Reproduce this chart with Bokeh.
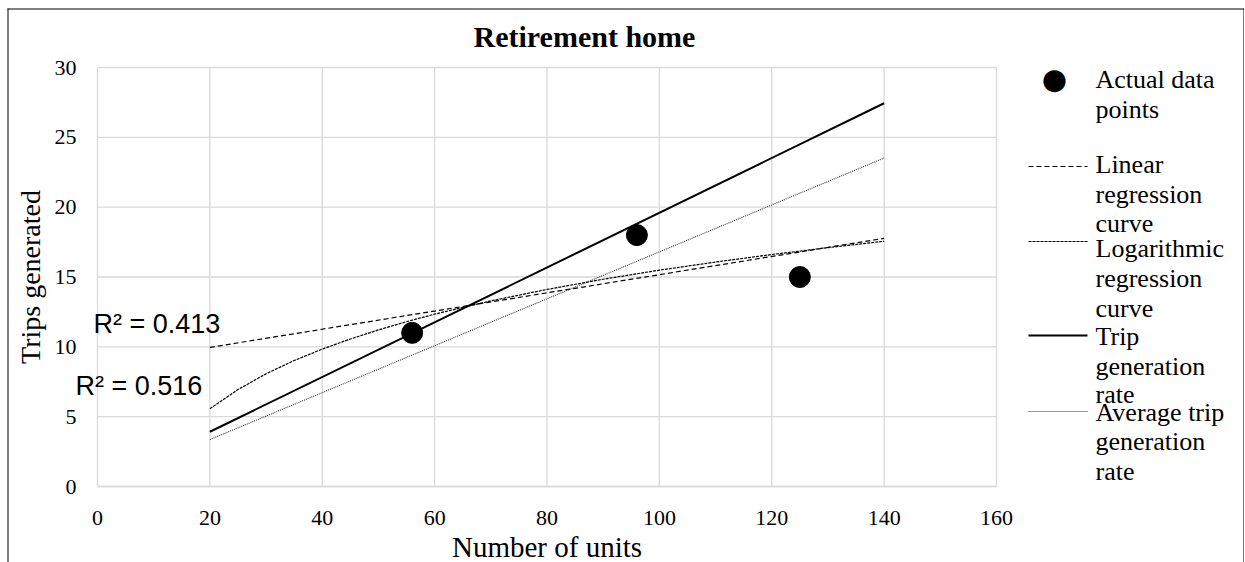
from bokeh.plotting import figure
from bokeh.models import Label, Arrow, Range1d, FixedTicker
from bokeh.embed import file_html
from bokeh.resources import INLINE

# ---- data ----
units = [56, 96, 125]
trips = [11, 18, 15]

linear_x = [20, 140]
linear_y = [9.96, 17.77]

log_x = [20, 25, 30, 35, 40, 45, 50, 55, 60, 70, 80, 90, 100, 110, 120, 130, 140]
log_y = [5.57, 6.94, 8.07, 9.02, 9.84, 10.56, 11.21, 11.8, 12.34, 13.29, 14.11,
         14.84, 15.49, 16.07, 16.61, 17.1, 17.56]

rate_x = [20, 140]
rate_y = [3.92, 27.44]

avg_x = [20, 140]
avg_y = [3.36, 23.52]

x_ticks = [0, 20, 40, 60, 80, 100, 120, 140, 160]
y_ticks = [0, 5, 10, 15, 20, 25, 30]

title_text = "Retirement home"
x_label = "Number of units"
y_label = "Trips generated"
r2_texts = ["R\u00b2 = 0.413", "R\u00b2 = 0.516"]

legend_lines = [
    ["Actual data", "points"],
    ["Linear", "regression", "curve"],
    ["Logarithmic", "regression", "curve"],
    ["Trip", "generation", "rate"],
    ["Average trip", "generation", "rate"],
]

SERIF = "Liberation Serif"
SANS = "Liberation Sans"
GRID = "#d9d9d9"

# ---- layout: the frame covers the whole canvas; plot area is 0..160 x 0..30 ----
W, H = 1244, 562
PX_L, PX_R, PX_T, PX_B = 97, 996, 67, 486          # plot-area edges in page px
sx = (PX_R - PX_L) / (x_ticks[-1] - x_ticks[0])
sy = (PX_B - PX_T) / (y_ticks[-1] - y_ticks[0])
xr = Range1d(x_ticks[0] - PX_L / sx, x_ticks[-1] + (W - PX_R) / sx)
yr = Range1d(y_ticks[0] - (H - PX_B) / sy, y_ticks[-1] + PX_T / sy)

p = figure(width=W, height=H, x_range=xr, y_range=yr,
           output_backend="svg", toolbar_location=None,
           min_border=0, min_border_left=0, min_border_right=0,
           min_border_top=0, min_border_bottom=0)
p.outline_line_color = None
p.background_fill_color = "white"
p.border_fill_color = "white"
p.grid.visible = False

# axes fixed at the plot-area edges
for ax in (p.xaxis[0], p.yaxis[0]):
    ax.fixed_location = 0
    ax.major_tick_out = 0
    ax.major_tick_in = 0
    ax.minor_tick_out = 0
    ax.minor_tick_in = 0
    ax.major_label_text_font = SERIF
    ax.major_label_text_font_size = "22px"
    ax.major_label_text_color = "black"
    ax.axis_label_text_font = SERIF
    ax.axis_label_text_font_style = "normal"
    ax.axis_label_text_color = "black"

p.xaxis.ticker = FixedTicker(ticks=x_ticks)
p.yaxis.ticker = FixedTicker(ticks=y_ticks)
p.xaxis.bounds = (x_ticks[0], x_ticks[-1])
p.yaxis.bounds = (y_ticks[0], y_ticks[-1])
p.xaxis.axis_label = x_label
p.yaxis.axis_label = y_label
p.xaxis.axis_label_text_font_size = "29px"
p.yaxis.axis_label_text_font_size = "28px"
p.xaxis.major_label_standoff = 24
p.xaxis.axis_label_standoff = 3
p.yaxis.major_label_standoff = 21
p.yaxis.axis_label_standoff = 6
p.xaxis.axis_line_color = GRID
p.xaxis.axis_line_width = 1.3
p.yaxis.axis_line_color = None

# gridlines of the plot area
p.segment(x0=x_ticks, y0=y_ticks[0], x1=x_ticks, y1=y_ticks[-1],
          line_color=GRID, line_width=1.3)
p.segment(x0=x_ticks[0], y0=y_ticks, x1=x_ticks[-1], y1=y_ticks,
          line_color=GRID, line_width=1.3)

# series
p.line(linear_x, linear_y, line_color="black", line_width=1.2, line_dash="5 3")
p.line(log_x, log_y, line_color="black", line_width=1.2, line_dash="3 1")
p.line(rate_x, rate_y, line_color="black", line_width=2)
p.line(avg_x, avg_y, line_color="#333333", line_width=1.1, line_dash="1 1")
p.scatter(units, trips, size=21, fill_color="black", line_color="black")

SHIFT = 9   # text renders this much below the requested alphabetic baseline

def lab(px, py, text, **kw):
    """Label positioned in page px (x from left, y from top)."""
    p.add_layout(Label(x=px, y=H - py, x_units="screen", y_units="screen",
                       text=text, text_color="black", **kw))

# title
lab(473, 46 - SHIFT - 1, title_text, text_font=SERIF, text_font_size="30px",
    text_font_style="bold", text_baseline="alphabetic")

# R squared labels
for txt, (px, py) in zip(r2_texts, [(93, 332), (75, 394)]):
    lab(px, py - SHIFT, txt, text_font=SANS, text_font_size="27px",
        text_baseline="alphabetic")

# legend
baselines = [[88, 118], [173, 203, 232], [257, 287, 317], [345, 375, 403], [421, 450, 480]]
for lines, bls in zip(legend_lines, baselines):
    for t, b in zip(lines, bls):
        lab(1095, b - SHIFT, t, text_font=SERIF, text_font_size="26px",
            text_baseline="alphabetic")

lab(1054, 78, "\u25cf", text_font="DejaVu Sans", text_font_size="29px",
    text_align="center", text_baseline="middle")

samples = [(166, "5 3", 1.2, "black"), (241, "3 1", 1.2, "black"),
           (335, None, 2, "black"), (411, "1 1", 1.1, "#333333")]
for y_pg, dash, w, c in samples:
    kw = dict(end=None, x_start=1028, x_end=1087, y_start=H - y_pg, y_end=H - y_pg,
              start_units="screen", end_units="screen", line_color=c, line_width=w)
    if dash:
        kw["line_dash"] = dash
    p.add_layout(Arrow(**kw))

# chart border (left, top, right)
for (x0, y0, x1, y1) in [(7.5, 8, 7.5, H), (7, 8.5, 1244, 8.5), (1243.5, 8, 1243.5, H)]:
    p.add_layout(Arrow(end=None, x_start=x0, y_start=H - y0, x_end=x1, y_end=H - y1,
                       start_units="screen", end_units="screen",
                       line_color="black", line_width=1))

open("out.html", "w").write(file_html(p, INLINE))
